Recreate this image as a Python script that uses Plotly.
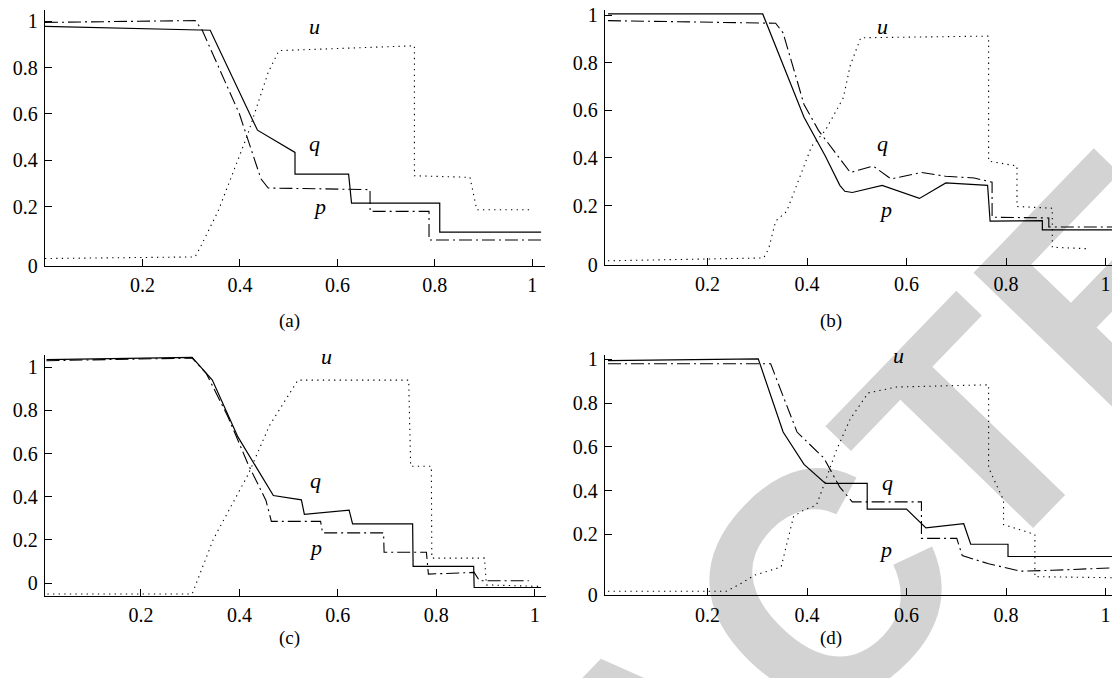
import plotly.graph_objects as go

# ---------------- data ----------------
# panel (a)
a_q_x = [0.0, 0.339, 0.436, 0.513, 0.513, 0.623, 0.629, 0.810, 0.810, 1.018]
a_q_y = [0.979, 0.962, 0.530, 0.434, 0.340, 0.340, 0.215, 0.215, 0.089, 0.089]
a_p_x = [0.0, 0.308, 0.322, 0.399, 0.443, 0.458, 0.667, 0.667, 0.788, 0.788, 1.018]
a_p_y = [0.996, 1.004, 0.965, 0.600, 0.320, 0.280, 0.273, 0.179, 0.179, 0.055, 0.055]
a_u_x = [0.0, 0.308, 0.319, 0.355, 0.414, 0.458, 0.480, 0.758, 0.758, 0.872, 0.886, 0.998]
a_u_y = [-0.025, -0.018, 0.025, 0.179, 0.500, 0.780, 0.874, 0.895, 0.333, 0.326, 0.186, 0.186]

# panel (b)
b_q_x = [0.0, 0.311, 0.394, 0.437, 0.466, 0.476, 0.491, 0.551, 0.626, 0.679, 0.763, 0.768, 0.873, 0.873, 1.013]
b_q_y = [1.005, 1.005, 0.571, 0.407, 0.285, 0.260, 0.255, 0.285, 0.230, 0.295, 0.285, 0.135, 0.137, 0.098, 0.098]
b_p_x = [0.0, 0.337, 0.352, 0.394, 0.423, 0.487, 0.533, 0.569, 0.630, 0.679, 0.736, 0.772, 0.772, 0.886, 0.886, 1.013]
b_p_y = [0.977, 0.966, 0.925, 0.625, 0.516, 0.339, 0.366, 0.312, 0.339, 0.323, 0.316, 0.298, 0.151, 0.148, 0.110, 0.110]
b_u_x = [0.0, 0.313, 0.323, 0.337, 0.359, 0.387, 0.409, 0.437, 0.473, 0.487, 0.508, 0.765, 0.765,
         0.822, 0.822, 0.893, 0.893, 0.961]
b_u_y = [-0.032, -0.020, 0.019, 0.135, 0.175, 0.325, 0.448, 0.516, 0.653, 0.789, 0.905, 0.912, 0.387,
         0.366, 0.196, 0.189, 0.025, 0.019]

# panel (c)
c_q_x = [0.008, 0.304, 0.345, 0.397, 0.469, 0.526, 0.532, 0.623, 0.630, 0.752, 0.753, 0.876, 0.877, 1.013]
c_q_y = [1.035, 1.045, 0.940, 0.677, 0.406, 0.386, 0.319, 0.338, 0.275, 0.275, 0.078, 0.078, -0.020, -0.020]
c_p_x = [0.008, 0.304, 0.333, 0.376, 0.418, 0.454, 0.465, 0.565, 0.569, 0.693, 0.694, 0.780, 0.784,
         0.877, 0.888, 0.988]
c_p_y = [1.030, 1.042, 0.970, 0.774, 0.549, 0.383, 0.286, 0.286, 0.233, 0.233, 0.143, 0.143, 0.042,
         0.050, 0.011, 0.011]
c_u_x = [0.010, 0.304, 0.347, 0.418, 0.461, 0.519, 0.744, 0.748, 0.790, 0.791, 0.898, 0.902, 1.013]
c_u_y = [-0.050, -0.050, 0.203, 0.504, 0.729, 0.940, 0.940, 0.541, 0.541, 0.116, 0.116, -0.008, -0.015]

# panel (d)
d_q_x = [0.0, 0.302, 0.352, 0.394, 0.437, 0.521, 0.521, 0.600, 0.639, 0.715, 0.729, 0.804, 0.804, 1.013]
d_q_y = [0.995, 1.003, 0.668, 0.520, 0.433, 0.433, 0.316, 0.316, 0.230, 0.249, 0.155, 0.155, 0.099, 0.099]
d_p_x = [0.0, 0.327, 0.352, 0.380, 0.434, 0.466, 0.491, 0.630, 0.630, 0.701, 0.712, 0.765, 0.829, 0.893, 1.013]
d_p_y = [0.980, 0.980, 0.832, 0.668, 0.549, 0.416, 0.349, 0.349, 0.182, 0.182, 0.103, 0.066, 0.032, 0.036, 0.047]
d_u_x = [0.0, 0.238, 0.263, 0.295, 0.348, 0.373, 0.394, 0.419, 0.437, 0.458, 0.487, 0.523, 0.580, 0.765,
         0.765, 0.795, 0.795, 0.858, 0.858, 1.013]
d_u_y = [-0.060, -0.060, -0.030, 0.014, 0.051, 0.282, 0.312, 0.334, 0.445, 0.579, 0.728, 0.847, 0.874,
         0.884, 0.505, 0.356, 0.245, 0.200, 0.007, 0.002]

# curve label positions (x, y) per panel: u, q, p
lab_names = ["u", "q", "p"]
a_lab = [(0.553, 0.980), (0.553, 0.474), (0.564, 0.200)]
b_lab = [(0.551, 0.953), (0.551, 0.462), (0.558, 0.182)]
c_lab = [(0.576, 1.050), (0.555, 0.474), (0.555, 0.165)]
d_lab = [(0.583, 1.018), (0.562, 0.438), (0.558, 0.133)]

panel_names = ["(a)", "(b)", "(c)", "(d)"]
x_ticks = [0.2, 0.4, 0.6, 0.8, 1]
x_ticktext = ["0.2", "0.4", "0.6", "0.8", "1"]

# ---------------- geometry ----------------
W, H = 1112, 678
def px_x(p):
    return p / W
def px_y(p):
    return 1 - p / H

panels = [
    dict(xd=(45, 545), yd=(3, 266), xr=(0.0, 1.026), yr=(-0.057, 1.05), y0=-0.057),
    dict(xd=(605, 1112), yd=(3, 265), xr=(-0.006, 1.013), yr=(-0.0495, 1.022), y0=-0.0495),
    dict(xd=(45, 546), yd=(358, 605), xr=(0.005, 1.023), yr=(-0.059, 1.054), y0=0.0),
    dict(xd=(605, 1112), yd=(358, 604.5), xr=(-0.006, 1.013), yr=(-0.079, 1.018), y0=-0.079),
]
data = [
    (a_q_x, a_q_y, a_p_x, a_p_y, a_u_x, a_u_y, a_lab),
    (b_q_x, b_q_y, b_p_x, b_p_y, b_u_x, b_u_y, b_lab),
    (c_q_x, c_q_y, c_p_x, c_p_y, c_u_x, c_u_y, c_lab),
    (d_q_x, d_q_y, d_p_x, d_p_y, d_u_x, d_u_y, d_lab),
]
label_px = [(277, 323), (844, 323), (277, 662), (844, 662)]

SERIF = "Liberation Serif"
fig = go.Figure()
annotations = []
layout = {}
for i, (pn, d) in enumerate(zip(panels, data)):
    k = "" if i == 0 else str(i + 1)
    xa, ya = "x" + k, "y" + k
    qx, qy, ppx, ppy, ux, uy, labs = d
    fig.add_trace(go.Scatter(x=ux, y=uy, mode="lines", xaxis=xa, yaxis=ya,
                             line=dict(color="black", width=1.1, dash="1.3px,4.3px"),
                             showlegend=False, hoverinfo="skip"))
    fig.add_trace(go.Scatter(x=ppx, y=ppy, mode="lines", xaxis=xa, yaxis=ya,
                             line=dict(color="black", width=1.1, dash="13px,4px,2px,4px"),
                             showlegend=False, hoverinfo="skip"))
    fig.add_trace(go.Scatter(x=qx, y=qy, mode="lines", xaxis=xa, yaxis=ya,
                             line=dict(color="black", width=1.2),
                             showlegend=False, hoverinfo="skip"))
    for name, (lx, ly) in zip(lab_names, labs):
        annotations.append(dict(x=lx, y=ly, xref=xa, yref=ya, text="<i>%s</i>" % name,
                                showarrow=False, font=dict(family=SERIF, size=22, color="black")))
    lx, ly = label_px[i]
    annotations.append(dict(x=px_x(lx), y=px_y(ly), xref="paper", yref="paper",
                            text=panel_names[i], showarrow=False,
                            font=dict(family=SERIF, size=19, color="black")))
    yt = [pn["y0"], 0.2, 0.4, 0.6, 0.8, 1]
    ytt = ["0", "0.2", "0.4", "0.6", "0.8", "1"]
    common = dict(showline=True, linecolor="black", linewidth=1.3, showgrid=False, zeroline=False,
                  ticks="inside", ticklen=7, tickwidth=1, tickcolor="black",
                  tickfont=dict(family=SERIF, size=20, color="black"))
    layout["xaxis" + k] = dict(domain=[px_x(pn["xd"][0]), px_x(pn["xd"][1])], range=list(pn["xr"]),
                               anchor=ya, tickvals=x_ticks, ticktext=x_ticktext,
                               ticklabelstandoff=1, **common)
    layout["yaxis" + k] = dict(domain=[px_y(pn["yd"][1]), px_y(pn["yd"][0])], range=list(pn["yr"]),
                               anchor=xa, tickvals=yt, ticktext=ytt, ticklabelstandoff=2, **common)

# watermark
wm_cx, wm_cy = 639, 746
fig.add_shape(type="rect", xref="paper", yref="paper",
              x0=px_x(wm_cx) - 0.01, x1=px_x(wm_cx) + 0.01,
              y0=px_y(wm_cy) - 0.01, y1=px_y(wm_cy) + 0.01,
              line=dict(width=0), fillcolor="rgba(0,0,0,0)", layer="below",
              label=dict(text="RETRACTED", textangle=-46, textposition="middle center",
                         font=dict(family="Liberation Sans", size=320, color="#d3d3d3", weight="bold")))

fig.update_layout(width=W, height=H, margin=dict(l=0, r=0, t=0, b=0),
                  paper_bgcolor="white", plot_bgcolor="rgba(0,0,0,0)",
                  annotations=annotations, **layout)
fig.write_html("out.html")
